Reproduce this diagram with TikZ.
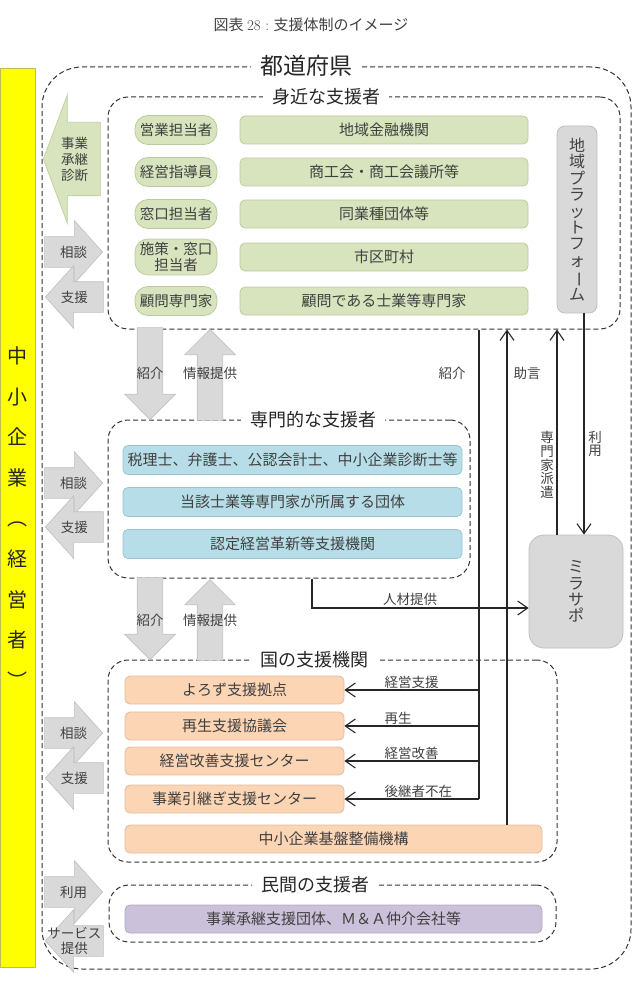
\documentclass[tikz,border=0pt]{standalone}
\usepackage{fontspec}
\newfontfamily\jp{Noto Sans CJK JP}
\usetikzlibrary{arrows.meta, shapes.arrows, calc}
\definecolor{txtgray}{HTML}{404040}
\definecolor{titlegray}{HTML}{262626}
\definecolor{dashgray}{HTML}{333333}
\definecolor{greenfill}{HTML}{D7E4BD}
\definecolor{greenborder}{HTML}{BCCB9E}
\definecolor{bluefill}{HTML}{B7DEE8}
\definecolor{blueborder}{HTML}{9DC3CF}
\definecolor{orangefill}{HTML}{FCD5B5}
\definecolor{orangeborder}{HTML}{E4BC9E}
\definecolor{purplefill}{HTML}{CCC1DA}
\definecolor{purpleborder}{HTML}{B2A8C0}
\definecolor{grayfill}{HTML}{D9D9D9}
\definecolor{grayborder}{HTML}{BFBFBF}
\definecolor{smeyellow}{HTML}{FFFF00}
\definecolor{smeborder}{HTML}{BDBD55}
\newcommand{\vbar}{\rotatebox[origin=c]{-90}{ー}}

\begin{document}
\begin{tikzpicture}[x=1pt, y=-1pt,
    >={Straight Barb[length=10pt, width=14pt]},
    boxtext/.style={font=\jp\fontsize{15}{18}\selectfont, text=txtgray},
    pill/.style={boxtext, font=\jp\fontsize{14.5}{16.5}\selectfont, draw=greenborder,
        fill=greenfill, rounded corners=13pt, minimum width=82, minimum height=29,
        align=center, inner sep=3pt, line width=0.8pt},
    rowbox/.style={boxtext, rounded corners=5pt, minimum height=28, inner sep=1pt,
        line width=0.8pt},
    gbox/.style={rowbox, draw=greenborder, fill=greenfill, minimum width=288},
    bbox/.style={rowbox, draw=blueborder, fill=bluefill, minimum width=339, minimum height=29},
    obox/.style={rowbox, draw=orangeborder, fill=orangefill, minimum width=219},
    pbox/.style={rowbox, draw=purpleborder, fill=purplefill, minimum width=417},
    graybox/.style={boxtext, font=\jp\fontsize{16}{16.4}\selectfont, draw=grayborder,
        fill=grayfill, align=center, line width=0.8pt},
    grp/.style={draw=dashgray, dash pattern=on 5pt off 3pt, line width=1pt,
        rounded corners=20pt},
    grptitle/.style={font=\jp\fontsize{18}{20}\selectfont, text=titlegray, fill=white,
        inner xsep=9pt, inner ysep=1pt},
    dl/.style={font=\jp\fontsize{13.5}{16}\selectfont, text=txtgray, inner sep=1pt},
    vdl/.style={dl, font=\jp\fontsize{13.5}{13.8}\selectfont, align=center},
    conn/.style={line width=1.1pt, draw=black!85},
    harrow/.style={single arrow, draw=grayborder, fill=grayfill, line width=0.6pt,
        inner xsep=0pt, inner ysep=15pt, minimum height=58,
        single arrow head extend=16, single arrow tip angle=96},
    varrow/.style={single arrow, draw=grayborder, fill=grayfill, line width=0.6pt,
        inner xsep=0pt, inner ysep=12.5pt, single arrow head extend=12.5,
        single arrow tip angle=90},
    bigarrow/.style={single arrow, draw=greenborder, fill=greenfill, line width=0.6pt,
        inner xsep=0pt, inner ysep=36.5pt, minimum height=57,
        single arrow head extend=27.5, single arrow tip angle=139},
]
\useasboundingbox (0,0) rectangle (639,992);

% --- Title ---
\node[font=\jp\fontsize{15}{18}\selectfont, text=txtgray] (figtitle) at (311,25)
    {図表 {\rmfamily 28 :} 支援体制のイメージ};

% --- Groups ---
\node[grp, rounded corners=40pt, minimum width=589, minimum height=902] (pref) at (336.5,518) {};
\node[grp, minimum width=512, minimum height=232] (shin) at (364,213) {};
\node[grp, minimum width=362, minimum height=158] (senmon) at (289,499) {};
\node[grp, minimum width=449, minimum height=202] (koku) at (332.5,761) {};
\node[grp, minimum width=447, minimum height=57] (minkan) at (332.5,913.5) {};

\node[grptitle, font=\jp\fontsize{23}{25}\selectfont] at (306,66) {都道府県};
\node[grptitle] at (326,97) {身近な支援者};
\node[grptitle] at (313,420) {専門的な支援者};
\node[grptitle] at (314,660) {国の支援機関};
\node[grptitle] at (315,885) {民間の支援者};

% --- SME bar ---
\node[draw=smeborder, fill=smeyellow, minimum width=35, minimum height=899, inner sep=0pt,
    align=center, font=\jp\fontsize{20}{40.6}\selectfont, text=black!85] (sme) at (17.5,517.5)
    {中\\小\\企\\業\\︵\\経\\営\\者\\︶};

% --- Left arrows ---
\node[bigarrow, rotate=180, anchor=tip] (diag) at (43,159) {};
\node[dl, align=center, font=\jp\fontsize{13.5}{16}\selectfont] at ($(diag.tip)!0.55!(diag.tail)$)
    {事業\\承継\\診断};
\foreach \n/\ya/\yb in {1/252/297, 2/483/527, 3/733/778} {
    \node[harrow, anchor=tip] (sodan\n) at (103,\ya) {};
    \node[dl] at ($(sodan\n.tip)!0.5!(sodan\n.tail)$) {相談};
    \node[harrow, rotate=180, anchor=tip] (shien\n) at (45,\yb) {};
    \node[dl] at ($(shien\n.tip)!0.5!(shien\n.tail)$) {支援};
}
\node[harrow, anchor=tip] (riyo) at (103,892) {};
\node[dl] at ($(riyo.tip)!0.5!(riyo.tail)$) {利用};
\node[harrow, rotate=180, anchor=tip] (service) at (45,941) {};
\node[dl, align=center, font=\jp\fontsize{13.5}{15}\selectfont]
    at ($(service.tip)!0.5!(service.tail)$) {サービス\\提供};

% --- Up / down arrows between groups ---
\node[varrow, rotate=-90, anchor=tip, minimum height=92] (intro1) at (150,420) {};
\node[dl] at (150,373) {紹介};
\node[varrow, rotate=90, anchor=tip, minimum height=91] (info1) at (210,329) {};
\node[dl] at (210,373) {情報提供};
\node[varrow, rotate=-90, anchor=tip, minimum height=82] (intro2) at (150,660) {};
\node[dl] at (150,620) {紹介};
\node[varrow, rotate=90, anchor=tip, minimum height=81] (info2) at (210,579) {};
\node[dl] at (210,620) {情報提供};

% --- 身近な支援者 ---
\foreach \n/\y/\role/\org in {1/130/営業担当者/地域金融機関,
        2/172/経営指導員/商工会・商工会議所等,
        3/214/窓口担当者/同業種団体等,
        4/257/{施策・窓口\\担当者}/市区町村,
        5/301/顧問専門家/顧問である士業等専門家} {
    \node[pill] (role\n) at (176,\y) {\role};
    \node[gbox] (org\n) at (384,\y) {\org};
}
\node[graybox, minimum width=40, minimum height=187, rounded corners=8pt] (pf) at (577,219.5)
    {地\\域\\プ\\ラ\\ッ\\ト\\フ\\ォ\\\vbar\\ム};

% --- 専門的な支援者 ---
\foreach \n/\y/\name in {1/460/{税理士、弁護士、公認会計士、中小企業診断士等},
        2/502/{当該士業等専門家が所属する団体},
        3/544/{認定経営革新等支援機関}} {
    \node[bbox] (expert\n) at (292.5,\y) {\name};
}

% --- 国の支援機関 ---
\foreach \n/\y/\name in {1/690/よろず支援拠点, 2/726/再生支援協議会,
        3/761/経営改善支援センター, 4/799/事業引継ぎ支援センター} {
    \node[obox] (nat\n) at (234.5,\y) {\name};
}
\node[obox, minimum width=417] (smrj) at (333.5,839) {中小企業基盤整備機構};

% --- 民間の支援者 ---
\node[pbox] (private) at (333.5,919) {事業承継支援団体、Ｍ＆Ａ仲介会社等};

% --- ミラサポ ---
\node[graybox, minimum width=94, minimum height=113, rounded corners=15pt] (mirasapo)
    at (576,591.5) {ミ\\ラ\\サ\\ポ};

% --- Connectors ---
\coordinate (introx) at (479,0);
\coordinate (advx) at (507,0);
\coordinate (dispx) at (557,0);
\coordinate (usex) at (584,0);
\coordinate (hrx) at (312,0);
\coordinate (hry) at (0,608);

\draw[conn] (shin.south -| introx) -- (introx |- nat4.east);
\foreach \n/\lab in {1/経営支援, 2/再生, 3/経営改善, 4/後継者不在} {
    \draw[conn, ->] (introx |- nat\n.east) -- (nat\n.east);
    \node[dl, anchor=south west] at ([xshift=39pt]nat\n.east) {\lab};
}
\node[dl] at (452,373) {紹介};

\draw[conn, ->] (smrj.north -| advx) -- (shin.south -| advx);
\node[dl] at (527,373) {助言};

\draw[conn, ->] (mirasapo.north -| dispx) -- (shin.south -| dispx);
\node[vdl] at (547,465) {専\\門\\家\\派\\遣};

\draw[conn, ->] (pf.south -| usex) -- (mirasapo.north -| usex);
\node[vdl] at (595,444) {利\\用};

\draw[conn, ->] (senmon.south -| hrx) -- (hrx |- hry) -- (mirasapo.west |- hry);
\node[dl] at (410,599) {人材提供};

\end{tikzpicture}
\end{document}
